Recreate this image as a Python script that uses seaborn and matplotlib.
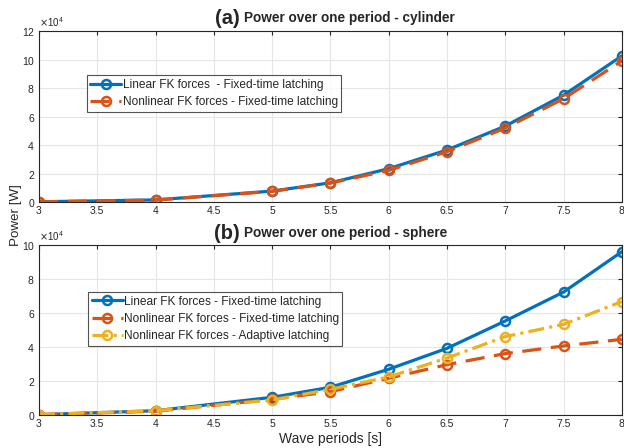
import matplotlib
matplotlib.use("Agg")
import matplotlib.pyplot as plt
import seaborn as sns
import pandas as pd
from matplotlib.ticker import ScalarFormatter

# Datos
periodos = [3, 4, 5, 5.5, 6, 6.5, 7, 7.5, 8]

cil_lineal = [200, 1500, 7700, 13500, 23400, 36500, 53300, 75000, 102500]
cil_nolineal = [150, 1400, 7500, 13300, 22200, 35300, 51900, 72500, 99000]

esf_lineal = [200, 2500, 10400, 16300, 26900, 39200, 55300, 72300, 96000]
esf_nolineal = [200, 2200, 9200, 13700, 21600, 29600, 36100, 40600, 44500]
esf_adaptivo = [200, 2500, 8800, 15100, 22400, 33500, 46100, 53300, 66700]

lbl_lin = "Linear FK forces  - Fixed-time latching"
lbl_nl = "Nonlinear FK forces - Fixed-time latching"
lbl_lin_b = "Linear FK forces - Fixed-time latching"
lbl_ad = "Nonlinear FK forces - Adaptive latching"

AZUL = "#0072BD"
NARANJA = "#D95319"
AMARILLO = "#EDB120"

sns.set_style("whitegrid")
plt.rcParams['font.family'] = ['Liberation Sans', 'DejaVu Sans']

fig = plt.figure(figsize=(6.24, 4.48), dpi=100)
ax1 = fig.add_axes([0.0625, 0.549, 0.934, 0.3817])
ax2 = fig.add_axes([0.0625, 0.0737, 0.934, 0.3795])


def dibujar(ax, series, ymax):
    for valores, etiqueta, color, estilo in series:
        df = pd.DataFrame({'T': periodos, 'P': valores})
        sns.lineplot(data=df, x='T', y='P', ax=ax, color=color, linestyle=estilo,
                     marker='o', markersize=6.5, markerfacecolor='none',
                     markeredgecolor=color, markeredgewidth=1.8,
                     linewidth=2.3, label=etiqueta)
    ax.set_xlim(3, 8)
    ax.set_ylim(0, ymax)
    ax.set_xticks([3, 3.5, 4, 4.5, 5, 5.5, 6, 6.5, 7, 7.5, 8])
    ax.set_xticklabels(['3', '3.5', '4', '4.5', '5', '5.5', '6', '6.5', '7', '7.5', '8'])
    ax.set_yticks(range(0, ymax + 1, 20000))
    fmt = ScalarFormatter(useMathText=True)
    fmt.set_powerlimits((4, 4))
    ax.yaxis.set_major_formatter(fmt)
    ax.yaxis.get_offset_text().set_fontsize(7)
    ax.tick_params(direction='in', labelsize=7.5, length=3, color='#262626',
                   top=True, right=True, pad=3)
    ax.grid(True, color='#e6e6e6', linewidth=0.8)
    for s in ax.spines.values():
        s.set_color('#262626')
        s.set_linewidth(0.8)
    ax.set_xlabel('')
    ax.set_ylabel('')


dibujar(ax1, [(cil_lineal, lbl_lin, AZUL, '-'),
              (cil_nolineal, lbl_nl, NARANJA, (0, (6, 3)))], 120000)
dibujar(ax2, [(esf_lineal, lbl_lin_b, AZUL, '-'),
              (esf_nolineal, lbl_nl, NARANJA, (0, (6, 3))),
              (esf_adaptivo, lbl_ad, AMARILLO, (0, (5, 1.6, 1, 1.6)))], 100000)

for ax, pos in [(ax1, (0.082, 0.742)), (ax2, (0.084, 0.723))]:
    leg = ax.legend(loc='upper left', bbox_to_anchor=pos, fontsize=8.6,
                    frameon=True, fancybox=False, borderpad=0.3,
                    labelspacing=0.45, handlelength=2.6, handletextpad=0.1,
                    borderaxespad=0)
    leg.get_frame().set_edgecolor('#262626')
    leg.get_frame().set_linewidth(0.8)

# Titulos
for ax, letra, texto, yy in [(ax1, '(a)', 'Power over one period - cylinder', 1.075),
                             (ax2, '(b)', 'Power over one period - sphere', 1.07)]:
    ax.text(0.345, yy, letra, transform=ax.transAxes, ha='right', va='center',
            fontsize=14.5, fontweight='bold')
    ax.text(0.352, yy, texto, transform=ax.transAxes, ha='left', va='center',
            fontsize=9.8, fontweight='bold')

ax2.set_xlabel('Wave periods [s]', fontsize=10, labelpad=2)
fig.text(0.026, 0.52, 'Power [W]', rotation=90, ha='center', va='center', fontsize=9.6)

fig.savefig('out.png', dpi=100)
